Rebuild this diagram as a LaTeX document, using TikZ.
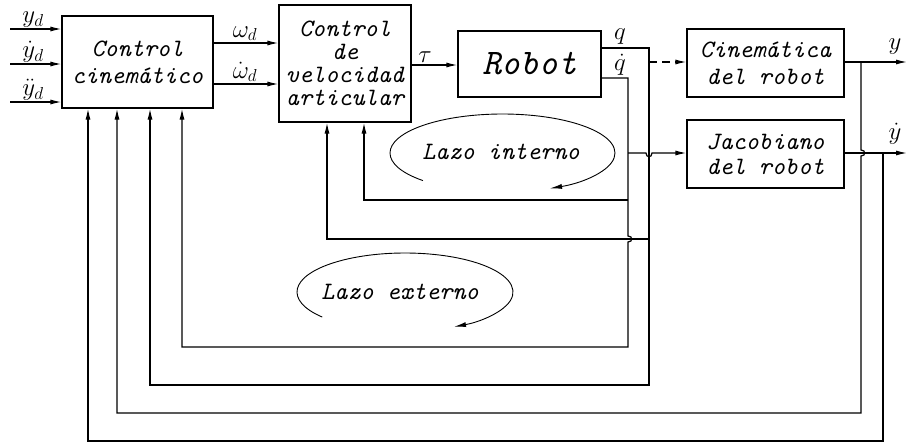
\documentclass[tikz,border=0pt]{standalone}
\usetikzlibrary{arrows.meta}
\tikzset{
  blk/.style={draw, line width=1.2pt, align=center, inner sep=0pt},
  ln/.style={line width=1.2pt},
  arr/.style={line width=1.2pt, -{Latex[length=11pt,width=5pt]}},
  lab/.style={font=\fontsize{24}{26}\selectfont, inner sep=0pt, anchor=south},
  txt/.style={font=\fontsize{25}{27}\selectfont\ttfamily\itshape, inner sep=0pt},
  loop/.style={line width=0.9pt, -{Latex[length=12pt,width=5pt]}},
}
\begin{document}
\begin{tikzpicture}[x=1pt,y=-1pt]
\useasboundingbox (0,0) rectangle (909,442);
% blocks
\node[blk, minimum width=151pt, minimum height=92pt, font=\fontsize{25}{27}\selectfont\ttfamily\itshape] (cc) at (137.5,62) {Control\\cinemático};
\node[blk, minimum width=132pt, minimum height=117pt, font=\fontsize{25}{23}\selectfont\ttfamily\itshape] (cv) at (345,63.5) {Control\\de\\velocidad\\articular};
\node[blk, minimum width=143pt, minimum height=66pt, font=\fontsize{36}{40}\selectfont\ttfamily\itshape] (rob) at (529.5,64) {Robot};
\node[blk, minimum width=157pt, minimum height=68pt, font=\fontsize{25}{27}\selectfont\ttfamily\itshape] (cin) at (765.5,63) {Cinemática\\del robot};
\node[blk, minimum width=157pt, minimum height=68pt, font=\fontsize{25}{25}\selectfont\ttfamily\itshape] (jac) at (765.5,154) {Jacobiano\\del robot};
% inputs
\coordinate (i1) at (10,29);
\coordinate (i2) at (10,64);
\coordinate (i3) at (10,102);
\draw[arr] (i1) -- (i1 -| cc.west);
\draw[arr] (i2) -- (i2 -| cc.west);
\draw[arr] (i3) -- (i3 -| cc.west);
\node[lab] (lyd) at (33,27.5) {$y_d$};
\node[lab] (lyd1) at (33,62.5) {$\dot y_d$};
\node[lab] (lyd2) at (33,100.5) {$\ddot y_d$};
% between blocks
\draw[arr] (cc.east |- 0,43) -- (cv.west |- 0,43);
\draw[arr] (cc.east |- 0,84) -- (cv.west |- 0,84);
\draw[arr] (cv.east |- 0,65) -- (rob.west |- 0,65);
\node[lab] (lw) at (245,41) {$\omega_d$};
\node[lab] (lw1) at (245,82) {$\dot\omega_d$};
\node[lab] (ltau) at (425,63) {$\tau$};
% robot outputs
\coordinate (qA) at (649,48);
\coordinate (qdA) at (628,78);
\node[lab] (lq) at (620,45) {$q$};
\node[lab] (lqd) at (620,76) {$\dot q$};
% q line -> feedback
\draw[arr] (rob.east |- qA) -- (qA) -- (649,385) -- (150,385) -- (cc.south -| 150,0);
% qdot line -> feedback (jumps over 239 line)
\draw[arr] (rob.east |- qdA) -- (qdA) -- (628,236) .. controls (633,236) and (633,242) .. (628,242) -- (628,347) -- (182,347) -- (cc.south -| 182,0);
% dashed to kinematics
\draw[arr, dash pattern=on 8pt off 5pt] (649,62) -- (cin.west |- 0,62);
% qdot to jacobian (jumps over q line)
\draw[arr] (628,153) -- (646,153) .. controls (646,158) and (652,158) .. (652,153) -- (jac.west |- 0,153);
% inner loop returns
\draw[arr] (628,200) -- (364,200) -- (cv.south -| 364,0);
\draw[arr] (649,239) -- (327,239) -- (cv.south -| 327,0);
% outputs
\draw[arr] (cin.east |- 0,62) -- (907,62);
\draw[arr] (jac.east |- 0,153) -- (907,153);
\node[lab] (ly) at (895,55) {$y$};
\node[lab] (lyp) at (895,145) {$\dot y$};
\draw[arr] (861,62) -- (861,150) .. controls (866,150) and (866,156) .. (861,156) -- (861,413) -- (117,413) -- (cc.south -| 117,0);
\draw[arr] (883,153) -- (883,441) -- (88,441) -- (cc.south -| 88,0);
% loops
\node[txt] (li) at (501,152) {Lazo interno};
\draw[loop] (502.5,153) ++(135:112.5 and 39) arc[start angle=135, end angle=425, x radius=112.5, y radius=39];
\node[txt] (le) at (400,292) {Lazo externo};
\draw[loop] (405,292) ++(140:108 and 39) arc[start angle=140, end angle=423, x radius=108, y radius=39];
\end{tikzpicture}
\end{document}
